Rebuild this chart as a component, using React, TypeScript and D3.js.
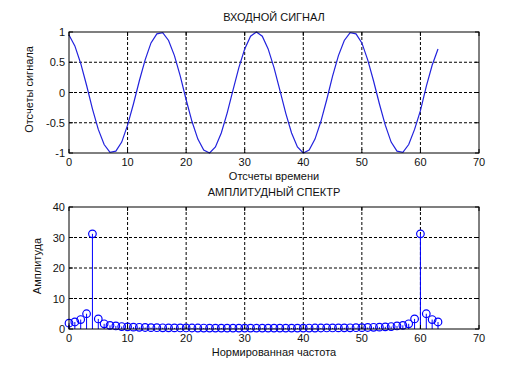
import React from "react";
import * as d3 from "d3";

// input signal samples
const signal = [
  0.95, 0.77, 0.48, 0.12, -0.27, -0.61, -0.86, -0.99, -0.97, -0.82, -0.54, -0.19,
  0.19, 0.54, 0.82, 0.97, 0.99, 0.86, 0.61, 0.27, -0.12, -0.48, -0.77, -0.95,
  -1.0, -0.9, -0.67, -0.34, 0.04, 0.41, 0.72, 0.93, 1.0, 0.93, 0.72, 0.41,
  0.04, -0.34, -0.67, -0.9, -1.0, -0.95, -0.77, -0.48, -0.12, 0.27, 0.61, 0.86,
  0.99, 0.97, 0.82, 0.54, 0.19, -0.19, -0.54, -0.82, -0.97, -0.99, -0.86, -0.61,
  -0.3, 0.1, 0.45, 0.72,
];

// amplitude spectrum
const spectrum = [
  1.9, 2.3, 3.1, 5.0, 31.2, 3.3, 1.7, 1.2, 1.0, 0.8, 0.7, 0.6, 0.55, 0.5, 0.45, 0.42,
  0.4, 0.38, 0.36, 0.35, 0.34, 0.33, 0.32, 0.31, 0.3, 0.3, 0.3, 0.29, 0.29, 0.29, 0.29, 0.29,
  0.29, 0.29, 0.29, 0.29, 0.29, 0.29, 0.3, 0.3, 0.3, 0.31, 0.32, 0.33, 0.34, 0.35, 0.36, 0.38,
  0.4, 0.42, 0.45, 0.5, 0.55, 0.6, 0.7, 0.8, 1.0, 1.2, 1.7, 3.3, 31.2, 5.0, 3.1, 2.3,
];

const xTicks = [0, 10, 20, 30, 40, 50, 60, 70];
const topYTicks = [-1, -0.5, 0, 0.5, 1];
const botYTicks = [0, 10, 20, 30, 40];

const W = 529;
const H = 372;
const left = 69;
const right = 479;
const font = "'Liberation Sans', Arial, sans-serif";

const Panel = ({
  y0,
  y1,
  yDomain,
  yTicks,
  title,
  xLabel,
  yLabel,
  yLabelX,
  yLabelShift = 0,
  children,
}: any) => {
  const x = d3.scaleLinear([0, 70], [left, right]);
  const y = d3.scaleLinear(yDomain, [y1, y0]);
  return (
    <g>
      {xTicks.slice(1, -1).map((t) => (
        <line key={"gx" + t} x1={x(t)} x2={x(t)} y1={y0} y2={y1} stroke="#000" strokeDasharray="3,2" strokeWidth={1} />
      ))}
      {yTicks.slice(1, -1).map((t: number) => (
        <line key={"gy" + t} x1={left} x2={right} y1={y(t)} y2={y(t)} stroke="#000" strokeDasharray="3,2" strokeWidth={1} />
      ))}
      {children(x, y)}
      <rect x={left} y={y0} width={right - left} height={y1 - y0} fill="none" stroke="#000" strokeWidth={1} />
      {xTicks.map((t) => (
        <g key={"tx" + t}>
          <line x1={x(t)} x2={x(t)} y1={y1} y2={y1 - 4} stroke="#000" />
          <line x1={x(t)} x2={x(t)} y1={y0} y2={y0 + 4} stroke="#000" />
          <text x={x(t)} y={y1 + 13} textAnchor="middle" fontSize={11}>{t}</text>
        </g>
      ))}
      {yTicks.map((t: number) => (
        <g key={"ty" + t}>
          <line x1={left} x2={left + 4} y1={y(t)} y2={y(t)} stroke="#000" />
          <line x1={right} x2={right - 4} y1={y(t)} y2={y(t)} stroke="#000" />
          <text x={left - 4} y={y(t) + 4} textAnchor="end" fontSize={11}>{t}</text>
        </g>
      ))}
      <text x={(left + right) / 2} y={y0 - 11} textAnchor="middle" fontSize={11}>{title}</text>
      <text x={(left + right) / 2} y={y1 + 27} textAnchor="middle" fontSize={11}>{xLabel}</text>
      <text
        transform={`translate(${yLabelX},${(y0 + y1) / 2 + yLabelShift}) rotate(-90)`}
        textAnchor="middle"
        fontSize={11}
      >
        {yLabel}
      </text>
    </g>
  );
};

export default function App() {
  return (
    <svg
      width={W}
      height={H}
      style={{ position: "absolute", left: 0, top: 0, background: "#fff", fontFamily: font }}
      fill="#111"
    >
      <rect width={W} height={H} fill="#fff" />
      <Panel
        y0={32}
        y1={153}
        yDomain={[-1, 1]}
        yTicks={topYTicks}
        title="ВХОДНОЙ СИГНАЛ"
        xLabel="Отсчеты времени"
        yLabel="Отсчеты сигнала"
        yLabelX={33}
        yLabelShift={-3}
      >
        {(x: any, y: any) => {
          const line = d3
            .line<number>()
            .x((_, i) => x(i))
            .y((d) => y(d));
          return <path d={line(signal) || ""} fill="none" stroke="#2222dd" strokeWidth={1.2} />;
        }}
      </Panel>
      <Panel
        y0={207}
        y1={329}
        yDomain={[0, 40]}
        yTicks={botYTicks}
        title="АМПЛИТУДНЫЙ СПЕКТР"
        xLabel="Нормированная частота"
        yLabel="Амплитуда"
        yLabelX={41}
        yLabelShift={-2}
      >
        {(x: any, y: any) => (
          <g>
            {spectrum.map((v, i) => (
              <g key={i}>
                <line x1={x(i)} x2={x(i)} y1={y(0)} y2={y(v)} stroke="#0000ff" strokeWidth={1} />
                <circle cx={x(i)} cy={y(v)} r={3.8} fill="none" stroke="#0000ff" strokeWidth={1.2} />
              </g>
            ))}
          </g>
        )}
      </Panel>
    </svg>
  );
}
